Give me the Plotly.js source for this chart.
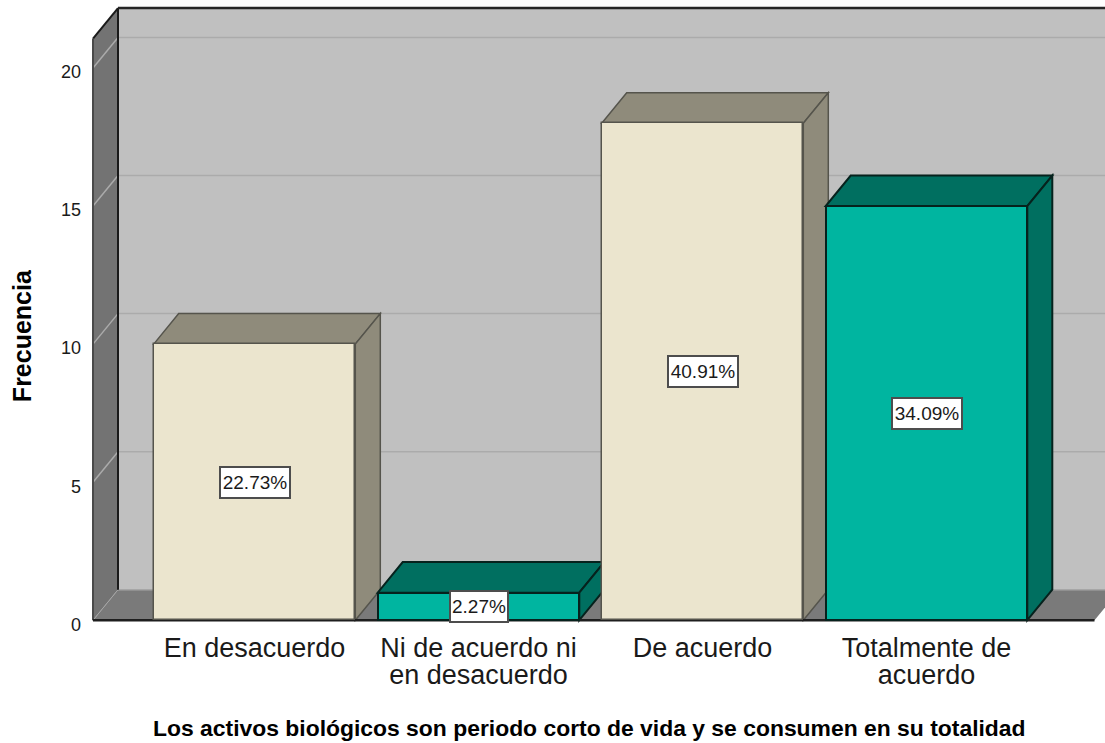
<!DOCTYPE html>
<html>
<head>
<meta charset="utf-8">
<script src="https://cdn.plot.ly/plotly-3.0.1.min.js"></script>
<style>html,body{margin:0;padding:0;background:#fff}#chart{width:1105px;height:743px}</style>
</head>
<body>
<div id="chart"></div>
<script>
const categories = ["En desacuerdo", "Ni de acuerdo ni<br>en desacuerdo", "De acuerdo", "Totalmente de<br>acuerdo"];
const frequencies = [10, 1, 18, 15];
const percentLabels = ["22.73%", "2.27%", "40.91%", "34.09%"];
const yTicks = [0, 5, 10, 15, 20];

const frontColors = ["#EBE5CE", "#00B5A0", "#EBE5CE", "#00B5A0"];
const darkColors  = ["#8F8B7B", "#006F60", "#8F8B7B", "#006F60"];
const edgeColors  = ["#55544C", "#06221D", "#55544C", "#06221D"];
const edgeWidths  = [1.5, 2, 1.5, 2];
const labelWidths = [68, 56, 68, 68];

const pxX = 224, pxY = 27.6;
const depthX = 25 / pxX, depthY = 30.5 / pxY;
const barWidth = 0.9;
const wallLeft = -161.5 / pxX;
const floorRight = 3.75;
const wallTop = 612 / pxY;
const LIB = "'Liberation Sans', Arial, sans-serif";

function poly(pts) { return "M" + pts.map(p => p[0] + "," + p[1]).join(" L") + " Z"; }
function face(pts, fill, line, w) {
  return {type: "path", xref: "x", yref: "y", layer: "below", path: poly(pts),
          fillcolor: fill, line: {color: line, width: w === undefined ? 1 : w}};
}
function seg(x0, y0, x1, y1, color, w) {
  return {type: "line", xref: "x", yref: "y", layer: "below", x0, y0, x1, y1, line: {color, width: w}};
}

const shapes = [];
// back wall, left wall, floor
shapes.push(face([[wallLeft + depthX, depthY], [floorRight + depthX, depthY], [floorRight + depthX, wallTop], [wallLeft + depthX, wallTop]], "#C0C0C0", "#C0C0C0", 0));
shapes.push(face([[wallLeft, 0], [wallLeft + depthX, depthY], [wallLeft + depthX, wallTop], [wallLeft, wallTop - depthY]], "#737373", "#737373", 0));
shapes.push(face([[wallLeft, 0], [floorRight, 0], [floorRight + depthX, depthY], [wallLeft + depthX, depthY]], "#7A7A7A", "#7A7A7A", 0));
// grid lines on both walls
yTicks.filter(v => v > 0).forEach(v => {
  shapes.push(seg(wallLeft + depthX, v + depthY, floorRight + depthX, v + depthY, "#ABABAB", 1.5));
  shapes.push(seg(wallLeft, v, wallLeft + depthX, v + depthY, "#ABABAB", 1.5));
});
shapes.push(seg(wallLeft + depthX, depthY, floorRight + depthX, depthY, "#A6A6A6", 1.5));
shapes.push(seg(wallLeft, 0, wallLeft + depthX, depthY, "#A6A6A6", 1));
// wall edges
shapes.push(seg(wallLeft + depthX, depthY, wallLeft + depthX, wallTop, "#1A1A1A", 2));
shapes.push(seg(wallLeft + depthX, wallTop, floorRight + depthX, wallTop, "#262626", 2.5));
shapes.push(seg(wallLeft, wallTop - depthY, wallLeft + depthX, wallTop, "#1A1A1A", 2));
shapes.push(seg(wallLeft, 0, wallLeft, wallTop - depthY, "#4A4A4A", 2));
// top and side faces of each bar
frequencies.forEach((v, i) => {
  const l = i - barWidth / 2, r = i + barWidth / 2;
  shapes.push(face([[l, v], [r, v], [r + depthX, v + depthY], [l + depthX, v + depthY]], darkColors[i], edgeColors[i], edgeWidths[i]));
  shapes.push(face([[r, 0], [r + depthX, depthY], [r + depthX, v + depthY], [r, v]], darkColors[i], edgeColors[i], edgeWidths[i]));
});
shapes.push(seg(wallLeft, 0, floorRight, 0, "#1E1E1E", 2.5));

const bars = {
  type: "bar",
  x: categories.map((c, i) => i),
  y: frequencies,
  width: barWidth,
  marker: {color: frontColors, line: {color: edgeColors, width: edgeWidths}},
  hoverinfo: "skip"
};

const annotations = frequencies.map((v, i) => ({
  x: i, y: v / 2, xref: "x", yref: "y", text: percentLabels[i], showarrow: false,
  font: {family: LIB, size: 19, color: "#1a1a1a"},
  bgcolor: "#FFFFFF", bordercolor: "#4D4D4D", borderwidth: 2, borderpad: 0,
  width: labelWidths[i], height: 29, align: "center", valign: "middle"
}));
annotations.push(
  {xref: "paper", yref: "paper", x: -0.0667, y: 0.4639, xanchor: "center", yanchor: "middle",
   text: "<b>Frecuencia</b>", textangle: -90, showarrow: false,
   font: {family: LIB, size: 25, color: "#000"}},
  {xref: "paper", yref: "paper", x: 0.4921, y: -0.1697, xanchor: "center", yanchor: "middle",
   text: "<b>Los activos biológicos son periodo corto de vida y se consumen en su totalidad</b>", showarrow: false,
   font: {family: LIB, size: 22.9, color: "#000"}}
);

const layout = {
  width: 1105, height: 743,
  margin: {l: 90, r: 0, t: 4, b: 120.24, pad: 0},
  paper_bgcolor: "#FFFFFF", plot_bgcolor: "#FFFFFF",
  showlegend: false, bargap: 0,
  xaxis: {
    range: [-164.5 / pxX, 850.5 / pxX], tickmode: "array",
    tickvals: categories.map((c, i) => i), ticktext: categories,
    showgrid: false, zeroline: false, showline: false, ticklen: 0,
    ticklabelstandoff: 6,
    tickfont: {family: LIB, size: 27, color: "#1a1a1a"}, tickangle: 0, automargin: false
  },
  yaxis: {
    range: [-0.1, 22.319], tickmode: "array", tickvals: yTicks,
    showgrid: false, zeroline: false, showline: false, ticklen: 0,
    ticklabelstandoff: 8, ticklabelshift: 4,
    tickfont: {family: LIB, size: 18, color: "#1a1a1a"}, automargin: false
  },
  shapes, annotations
};

const chart = document.getElementById("chart");
Plotly.newPlot(chart, [bars], layout, {displayModeBar: false, responsive: false}).then(() => {
  // tighten the two-line category labels to the reference's line spacing
  chart.querySelectorAll(".xtick text tspan.line").forEach(t => {
    const dy = parseFloat(t.getAttribute("dy"));
    if (dy) t.setAttribute("dy", (dy * 0.78) + "em");
  });
});
</script>
</body>
</html>
